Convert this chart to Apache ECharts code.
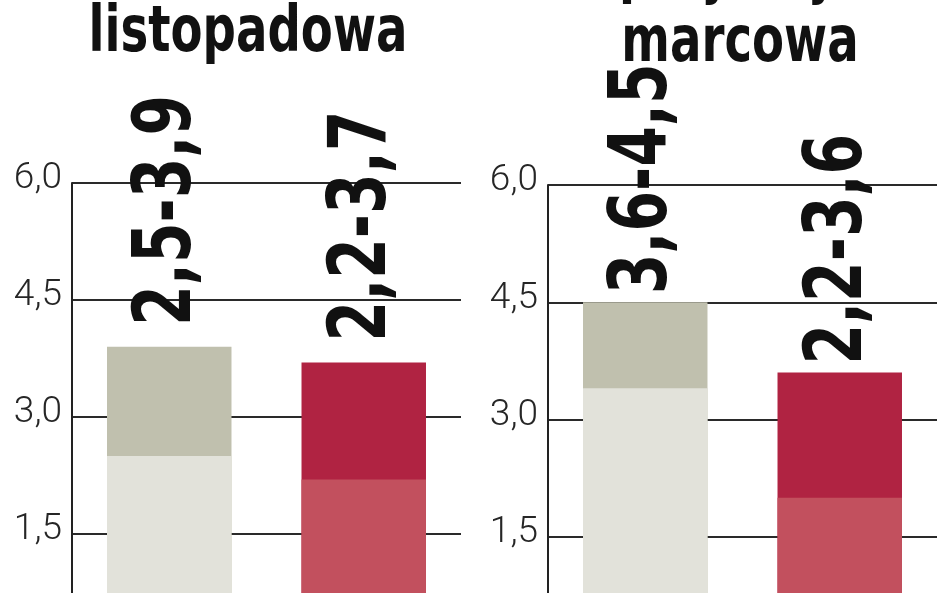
<!DOCTYPE html>
<html>
<head>
<meta charset="utf-8">
<title>Projekcje NBP</title>
<script src="https://cdn.jsdelivr.net/npm/echarts@6/dist/echarts.min.js"></script>
<style>
  html, body { margin: 0; padding: 0; background: #fff; }
  #chart { width: 948px; height: 593px; }
</style>
</head>
<body>
<div id="chart"></div>
<script>
// dane
const categories = ['zakres 1', 'zakres 2'];
const yTicks = [0, 1.5, 3.0, 4.5, 6.0];
const novTitle = ['projekcja', 'listopadowa'];
const novLow = [2.5, 2.2];
const novHigh = [3.9, 3.7];
const novLabels = ['2,5-3,9', '2,2-3,7'];
const marTitle = ['projekcja', 'marcowa'];
const marLow = [3.4, 2.0];
const marHigh = [4.5, 3.6];
const marLabels = ['3,6-4,5', '2,2-3,6'];

(function () {
    const chart = echarts.init(document.getElementById('chart'))

    const darkColors = ['#c0c0ae', '#b02342']
    const lightColors = ['#e2e2da', '#c2505e']
    const boldFont = '"DejaVu Sans Condensed", "DejaVu Sans", sans-serif'

    const grids = [
        { left: 72, right: 487, top: 183, bottom: -58, outerBoundsMode: 'none' },
        { left: 548, right: 11, top: 185, bottom: -61, outerBoundsMode: 'none' }
    ]

    function yAxis(idx) {
        return {
            type: 'value',
            gridIndex: idx,
            min: yTicks[0],
            max: yTicks[yTicks.length - 1],
            interval: yTicks[1] - yTicks[0],
            axisLine: { show: true, lineStyle: { color: '#222', width: 2 } },
            axisTick: { show: false },
            axisLabel: {
                margin: 10,
                color: '#262626',
                fontFamily: 'Roboto',
                fontWeight: 300,
                fontSize: 37,
                verticalAlign: 'bottom',
                lineHeight: 8,
                formatter: v => v.toFixed(1).replace('.', ',')
            },
            splitLine: { lineStyle: { color: '#2a2a2a', width: 2 } }
        }
    }

    function xAxis(idx) {
        return { type: 'category', gridIndex: idx, data: categories, show: false }
    }

    function panel(idx, low, high) {
        return [
            {
                type: 'bar',
                xAxisIndex: idx,
                yAxisIndex: idx,
                data: high,
                barWidth: '64%',
                barGap: '-100%',
                itemStyle: { color: p => darkColors[p.dataIndex] }
            },
            {
                type: 'bar',
                xAxisIndex: idx,
                yAxisIndex: idx,
                data: low,
                barWidth: '64%',
                barGap: '-100%',
                itemStyle: { color: p => lightColors[p.dataIndex] }
            }
        ]
    }

    // tytuly - pierwsza linia wychodzi poza kadr
    function title(lines, cx, cy) {
        return lines.map((t, i) => ({
            type: 'text',
            x: cx,
            y: cy - (lines.length - 1 - i) * 70,
            scaleX: 0.81,
            style: {
                text: t,
                align: 'center',
                verticalAlign: 'middle',
                fill: '#111',
                font: 'bold 64px ' + boldFont
            }
        }))
    }

    // pionowe opisy zakresow nad slupkami
    function rangeLabels(idx, high, labels, gap) {
        return labels.map((t, i) => {
            const pt = chart.convertToPixel({ gridIndex: idx }, [i, high[i]])
            return {
                type: 'text',
                x: pt[0],
                y: pt[1] - gap,
                rotation: Math.PI / 2,
                scaleX: 0.81,
                style: {
                    text: t,
                    align: 'left',
                    verticalAlign: 'middle',
                    fill: '#111',
                    font: 'bold 80px ' + boldFont
                }
            }
        })
    }

    const option = {
        animation: false,
        grid: grids,
        xAxis: [xAxis(0), xAxis(1)],
        yAxis: [yAxis(0), yAxis(1)],
        series: [...panel(0, novLow, novHigh), ...panel(1, marLow, marHigh)]
    }
    chart.setOption(option)

    chart.setOption({
        graphic: [
            ...title(novTitle, 248, 34),
            ...title(marTitle, 740, 44),
            ...rangeLabels(0, novHigh, novLabels, 21),
            ...rangeLabels(1, marHigh, marLabels, 8)
        ]
    })
})();
</script>
</body>
</html>
